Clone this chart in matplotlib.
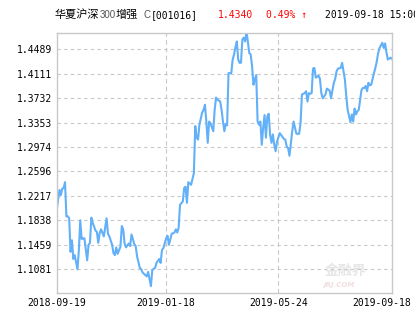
import matplotlib.pyplot as plt
from matplotlib.transforms import ScaledTranslation

# du lieu doc tu hinh (ngay giao dich thu may, gia tri NAV)
day = [0, 1, 2, 3, 4, 5, 6, 7, 8, 9, 10, 11, 12, 13, 15, 16, 17, 18, 19, 20,
       21, 22, 23, 24, 25, 26, 28, 29, 30, 31, 32, 34, 35, 36, 37, 38, 40, 41, 42, 43,
       44, 46, 47, 48, 49, 50, 52, 53, 54, 56, 57, 58, 60, 61, 62, 64, 65, 66, 68, 69,
       71, 72, 74, 75, 76, 77, 79, 80, 81, 83, 85, 86, 87, 88, 89, 91, 92, 93, 94, 95,
       96, 97, 99, 100, 101, 102, 103, 105, 106, 107, 108, 109, 110, 111, 113, 114, 115, 116, 118, 119,
       120, 121, 122, 123, 124, 126, 127, 128, 129, 130, 131, 132, 133, 134, 135, 136, 137, 139, 140, 141,
       142, 143, 144, 145, 146, 147, 148, 149, 150, 151, 152, 153, 154, 155, 156, 157, 158, 159, 161, 162,
       164, 165, 166, 167, 168, 170, 171, 172, 173, 175, 176, 177, 179, 180, 181, 182, 183, 184, 185, 186,
       187, 189, 190, 191, 192, 194, 195, 197, 198, 199, 200, 201, 202, 203, 205, 206, 207, 208, 209, 210,
       212, 213, 214, 215, 216, 217, 218, 220, 221, 222, 223, 224, 225, 226, 227, 229, 230, 231, 232, 233,
       235, 236, 237, 238, 239, 241, 242]
nav = [1.200, 1.215, 1.231, 1.223, 1.233, 1.234, 1.243, 1.190, 1.190, 1.187,
       1.135, 1.153, 1.124, 1.130, 1.108, 1.138, 1.184, 1.155, 1.156, 1.156,
       1.139, 1.122, 1.146, 1.149, 1.188, 1.180, 1.168, 1.166, 1.149, 1.164,
       1.170, 1.159, 1.173, 1.187, 1.163, 1.159, 1.146, 1.133, 1.130, 1.142,
       1.132, 1.143, 1.175, 1.170, 1.148, 1.142, 1.148, 1.144, 1.162, 1.147,
       1.144, 1.128, 1.110, 1.108, 1.103, 1.099, 1.097, 1.104, 1.082, 1.107,
       1.110, 1.118, 1.124, 1.118, 1.138, 1.141, 1.156, 1.160, 1.146, 1.163,
       1.165, 1.170, 1.165, 1.172, 1.208, 1.213, 1.234, 1.236, 1.211, 1.243,
       1.241, 1.239, 1.257, 1.330, 1.312, 1.309, 1.332, 1.351, 1.355, 1.363,
       1.337, 1.304, 1.337, 1.334, 1.322, 1.355, 1.374, 1.371, 1.368, 1.355,
       1.337, 1.322, 1.333, 1.331, 1.412, 1.412, 1.433, 1.441, 1.452, 1.461,
       1.433, 1.428, 1.428, 1.464, 1.467, 1.461, 1.477, 1.443, 1.441, 1.423,
       1.394, 1.402, 1.409, 1.337, 1.332, 1.337, 1.301, 1.327, 1.347, 1.312,
       1.345, 1.349, 1.317, 1.304, 1.317, 1.301, 1.291, 1.306, 1.319, 1.316,
       1.310, 1.309, 1.298, 1.296, 1.284, 1.322, 1.337, 1.327, 1.318, 1.318,
       1.335, 1.379, 1.381, 1.384, 1.368, 1.381, 1.380, 1.381, 1.419, 1.420,
       1.405, 1.408, 1.403, 1.381, 1.373, 1.379, 1.388, 1.385, 1.373, 1.385,
       1.397, 1.403, 1.415, 1.419, 1.420, 1.428, 1.415, 1.402, 1.376, 1.355,
       1.336, 1.348, 1.337, 1.357, 1.348, 1.353, 1.355, 1.386, 1.389, 1.389,
       1.392, 1.384, 1.397, 1.393, 1.394, 1.412, 1.420, 1.430, 1.443, 1.451,
       1.459, 1.451, 1.458, 1.444, 1.433, 1.436, 1.434]

y_ticks = [1.1081, 1.1459, 1.1838, 1.2217, 1.2596, 1.2974, 1.3353, 1.3732, 1.4111, 1.4489]
tick_days = [0, 79, 160, 242]
tick_dates = ["2018-09-19", "2019-01-18", "2019-05-24", "2019-09-18"]

fund_name = ["华夏沪深", "300", "增强", "C"]
fund_code = "[001016]"
last_nav = "1.4340"
change_pct = "0.49% ↑"
update_time = "2019-09-18 15:00"

W, H = 415, 330
fig = plt.figure(figsize=(W / 100, H / 100), dpi=100)
ax = fig.add_axes([56.7 / W, 1 - 293 / H, (392 - 56.7) / W, (293 - 33.3) / H])

ax.plot(day, nav, color="#62b0f8", lw=1.5, solid_joinstyle="round")
ax.set_xlim(0, 242)
ax.set_ylim(1.0713, 1.4737)

mono = "DejaVu Sans Mono"
ax.set_yticks(y_ticks)
ax.set_yticklabels(["%.4f" % v for v in y_ticks], family=mono, fontsize=7)
ax.set_xticks(tick_days)
ax.set_xticklabels(tick_dates, family=mono, fontsize=7)
ax.tick_params(length=0, pad=3.5)
lbl = ax.get_xticklabels()[-1]
lbl.set_transform(lbl.get_transform() + ScaledTranslation(-10 / 100, 0, fig.dpi_scale_trans))

ax.grid(True, axis="y", color="#c8c8c8", ls=(0, (3, 3)), lw=0.8)
for d in tick_days[1:-1]:
    ax.axvline(d, color="#c8c8c8", ls=(0, (4, 3)), lw=0.8, zorder=0)
for s in ax.spines.values():
    s.set_color("#c8c8c8")
    s.set_linewidth(1.0)

# watermark
ax.text(0.86, 0.085, "金融界", transform=ax.transAxes, ha="center", va="center",
        fontsize=10, fontweight="bold", color="#e6e6e6", family="Noto Sans CJK SC", zorder=0)
ax.text(0.84, 0.03, "JRJ.COM", transform=ax.transAxes, ha="center", va="center",
        fontsize=5, fontweight="bold", style="italic", color="#f0dede", zorder=0)

# tieu de
cjk = ["Noto Sans CJK SC", "DejaVu Sans"]
ty = 1 - 15 / H
fig.text(55 / W, ty, fund_name[0], family=cjk, fontsize=8, va="center")
fig.text(99.5 / W, ty, fund_name[1], family="Liberation Sans", fontsize=7, color="#555555", va="center")
fig.text(115.5 / W, ty, fund_name[2], family=cjk, fontsize=8, va="center")
fig.text(143 / W, ty, fund_name[3], family="Liberation Sans", fontsize=7, color="#555555", va="center")
fig.text(151 / W, ty, fund_code, family=mono, fontsize=7, va="center")
fig.text(218 / W, ty, last_nav, family=mono, fontsize=7, color="red", va="center")
fig.text(266 / W, ty, change_pct, family=mono, fontsize=7, color="red", va="center")
fig.text(325 / W, ty, update_time, family=mono, fontsize=7, va="center")

fig.savefig("out.png", dpi=100)
